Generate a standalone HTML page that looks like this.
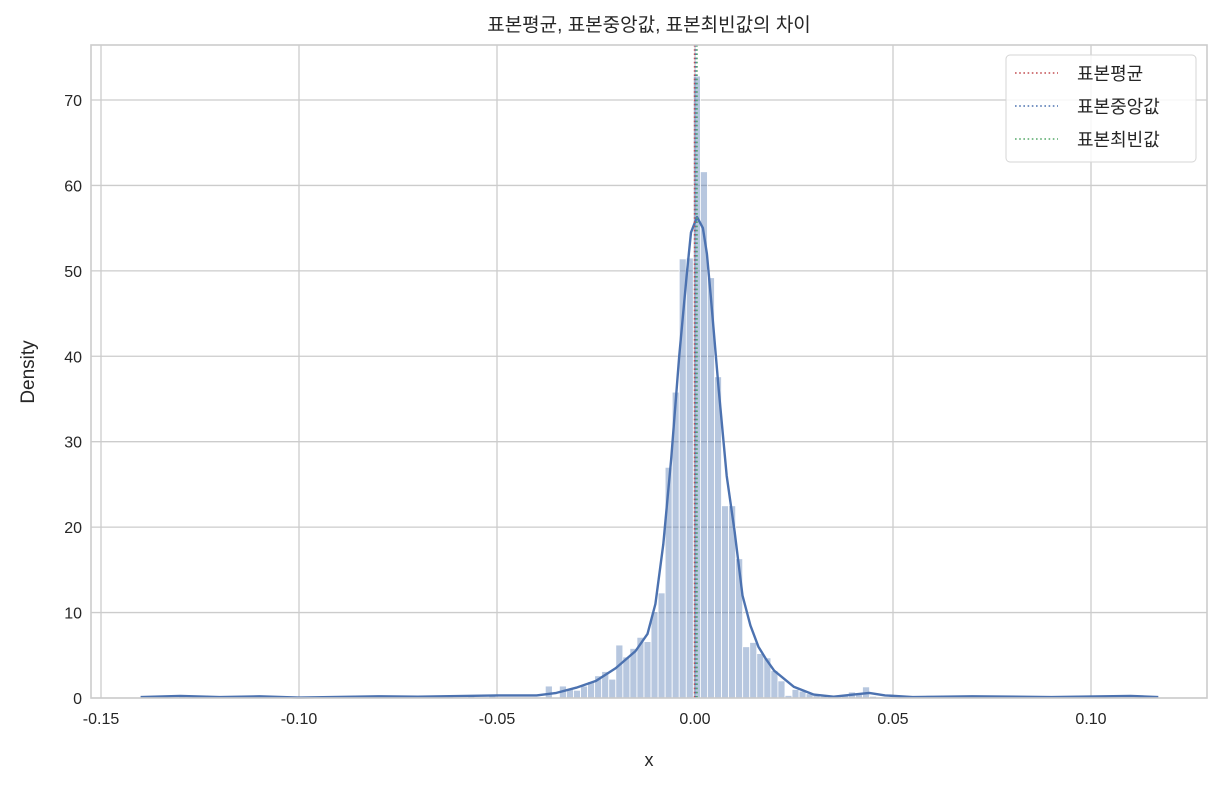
<!DOCTYPE html>
<html><head><meta charset="utf-8">
<style>
body{margin:0;background:#fff;}
svg text{font-family:"Liberation Sans","Noto Sans CJK KR",sans-serif;fill:#262626;}
</style></head>
<body>
<svg id="chart" width="1221" height="786" viewBox="0 0 1221 786" xmlns="http://www.w3.org/2000/svg">
<g id="grid"></g>
<g id="bars"></g>
<g id="kde"></g>
<g id="vlines"></g>
<rect x="91" y="45" width="1116" height="653" fill="none" stroke="#cccccc" stroke-width="1.6"/>
<g id="xticks"></g>
<g id="yticks"></g>
<text x="649" y="31" font-size="19" text-anchor="middle">표본평균, 표본중앙값, 표본최빈값의 차이</text>
<text x="649" y="766" font-size="18" text-anchor="middle">x</text>
<text transform="translate(34,372) rotate(-90)" font-size="19" text-anchor="middle">Density</text>
<g>
<rect x="1006" y="55" width="190" height="107" rx="4" fill="#fff" fill-opacity="0.85" stroke="#d5d5d5"/>
<line x1="1015" y1="73" x2="1058" y2="73" stroke="#c44e52" stroke-width="1.6" stroke-dasharray="1.6,2.6"/>
<text x="1077" y="80" font-size="18">표본평균</text>
<line x1="1015" y1="106" x2="1058" y2="106" stroke="#4c72b0" stroke-width="1.6" stroke-dasharray="1.6,2.6"/>
<text x="1077" y="113" font-size="18">표본중앙값</text>
<line x1="1015" y1="139" x2="1058" y2="139" stroke="#55a868" stroke-width="1.6" stroke-dasharray="1.6,2.6"/>
<text x="1077" y="146" font-size="18">표본최빈값</text>
</g>
</svg>
<script>
const xTicks=[-0.15,-0.10,-0.05,0.00,0.05,0.10];
const xTickLabels=["-0.15","-0.10","-0.05","0.00","0.05","0.10"];
const yTicks=[0,10,20,30,40,50,60,70];
const binStart=-0.13926;
const binWidth=0.00178;
const densities=[
0,0,0,0,0,0.2,0,0,0,0, 0,0,0,0,0,0,0,0.2,0,0, 0,0,0,0,0,0,0,0,0,0,
0,0,0,0.3,0,0,0,0,0,0, 0.3,0,0,0.3,0,0,0.3,0,0,0.3, 0,0,0,0,0,0,0,
1.4,0.1,1.4,1.0,0.9,1.4,1.9,2.6,3.1,2.2,6.2,4.8,5.8,7.1,6.6,10.1,12.3,27.0,35.8,51.4,51.5,
72.8,61.6,49.2,37.6,22.5,22.5,16.3,6.0,6.5,5.2,4.7,3.2,2.0,0.3,1.0,0.8,0.5,0.3,0.2,0.2,0.2,0.3,0.7,0.4,1.3,0.2,
0,0,0,0,0,0,0,0.3,0,0,0,0.3,0,0,0.3,0,0,0,0,0.3,0,0,0,0,0,0,0,0,0,0,0,0,0,0,0,0,0,0,0,0
];
const kdeX=[-0.14,-0.13,-0.12,-0.11,-0.10,-0.08,-0.07,-0.05,-0.04,-0.035,-0.03,-0.025,-0.02,-0.015,-0.012,-0.01,-0.008,-0.006,-0.004,-0.002,-0.001,0.0005,0.002,0.003,0.004,0.006,0.008,0.010,0.012,0.014,0.016,0.018,0.02,0.025,0.03,0.035,0.04,0.044,0.048,0.055,0.07,0.09,0.11,0.117];
const kdeY=[0.1,0.25,0.1,0.2,0.05,0.2,0.15,0.3,0.3,0.6,1.2,2.0,3.5,5.5,7.5,11,18,28,40,50,54.5,56.3,55,52,47,36,26,19.5,12,8.5,6,4.5,3.2,1.3,0.4,0.15,0.4,0.6,0.3,0.1,0.2,0.1,0.25,0.1];
const statNames=["mean","median","mode"];
const statValues=[-0.0001,0.0002,0.0005];
const statColors=["#c44e52","#4c72b0","#55a868"];

const NS="http://www.w3.org/2000/svg";
const X=v=>695+v*3960;
const Y=d=>698-d*8.543;
function mk(tag,attrs,parent){const e=document.createElementNS(NS,tag);for(const k in attrs)e.setAttribute(k,attrs[k]);parent.appendChild(e);return e;}
const grid=document.getElementById('grid');
xTicks.forEach((t,i)=>{
  const l=mk('line',{x1:X(t),x2:X(t),y1:45,y2:698,stroke:'#cccccc','stroke-width':1.3},grid);
  
  
  const tx=mk('text',{x:X(t),y:724,'font-size':16,'text-anchor':'middle'},document.getElementById('xticks'));
  tx.textContent=xTickLabels[i];
  
  
});
yTicks.forEach(t=>{
  const l=mk('line',{x1:91,x2:1207,y1:Y(t),y2:Y(t),stroke:'#cccccc','stroke-width':1.3},grid);
  
  
  const tx=mk('text',{x:82,y:Y(t)+6,'font-size':16,'text-anchor':'end'},document.getElementById('yticks'));
  tx.textContent=String(t);
  
  
});
const bars=document.getElementById('bars');
densities.forEach((d,i)=>{
  if(d<=0)return;
  const x0=X(binStart+i*binWidth),x1=X(binStart+(i+1)*binWidth);
  const r=mk('rect',{x:x0,y:Y(d),width:x1-x0,height:698-Y(d),fill:'#4c72b0','fill-opacity':0.4,stroke:'#fff','stroke-width':0.8},bars);
  
  
});
const pts=kdeX.map((v,i)=>X(v).toFixed(1)+','+Y(kdeY[i]).toFixed(1)).join(' ');
const pl=mk('polyline',{points:pts,fill:'none',stroke:'#4c72b0','stroke-width':2.4,'stroke-linejoin':'round'},document.getElementById('kde'));


statValues.forEach((v,i)=>{
  const l=mk('line',{x1:X(v),x2:X(v),y1:45,y2:698,stroke:statColors[i],'stroke-width':1.6,'stroke-dasharray':'1.6,2.6'},document.getElementById('vlines'));
  
  
});
</script>
</body></html>
